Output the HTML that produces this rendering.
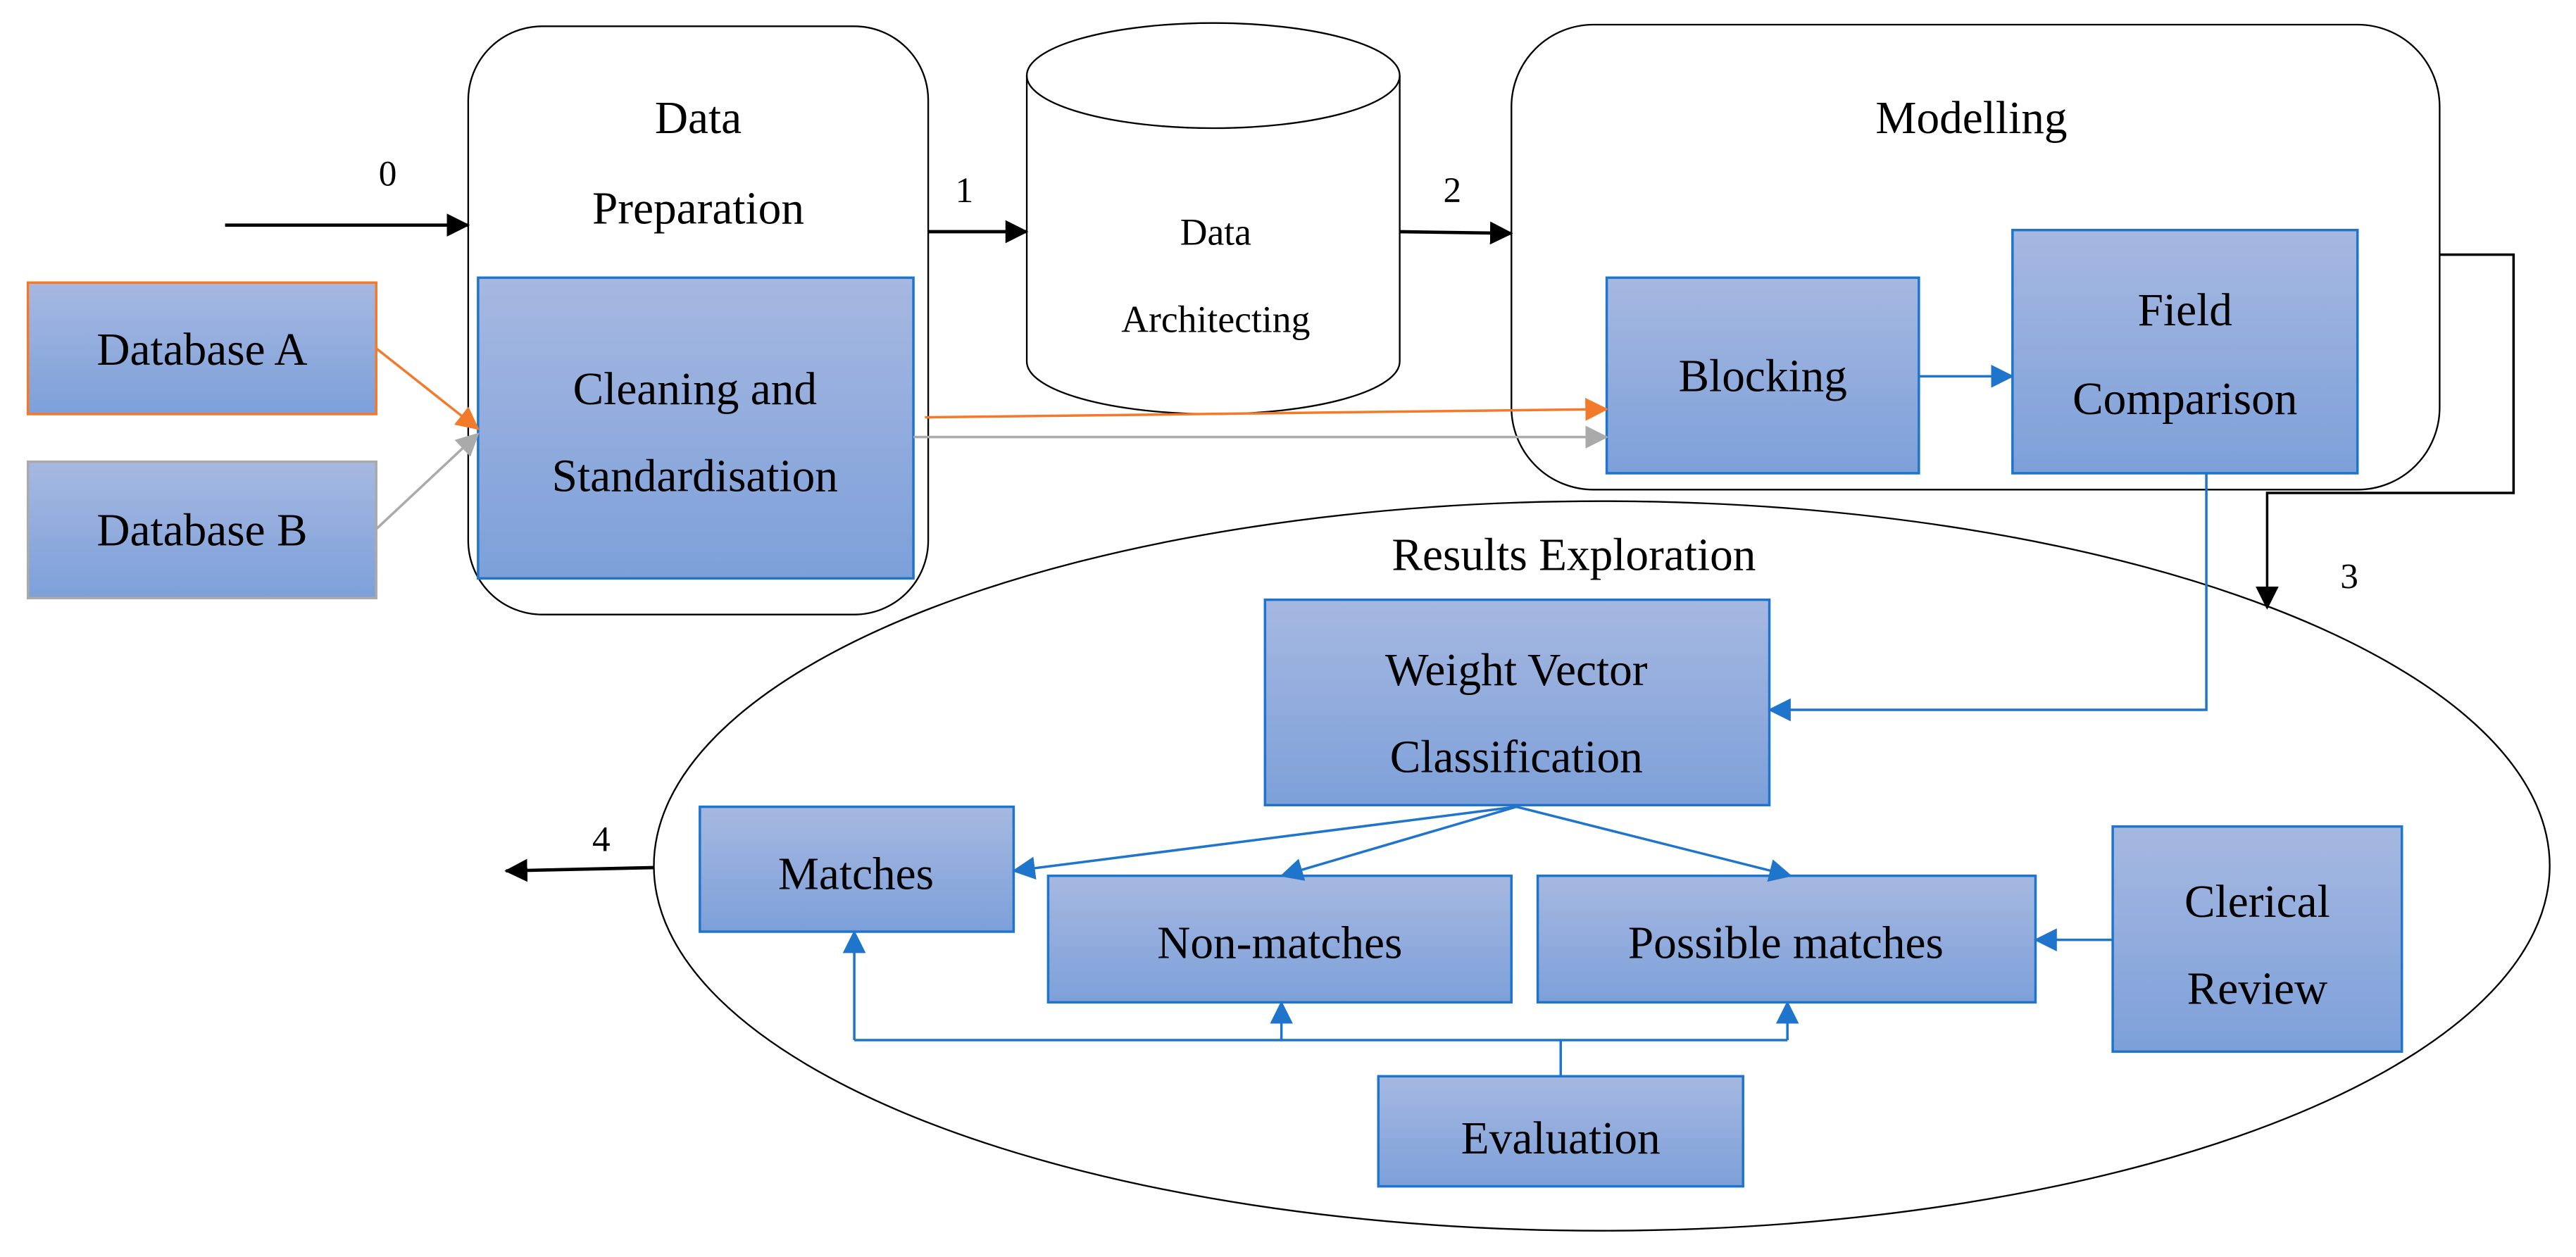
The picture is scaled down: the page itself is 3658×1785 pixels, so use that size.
<!DOCTYPE html>
<html><head><meta charset="utf-8"><style>html,body{margin:0;padding:0;background:#fff}svg{display:block}</style></head>
<body>
<svg width="3658" height="1785" viewBox="0 0 1568 765" preserveAspectRatio="none" xmlns="http://www.w3.org/2000/svg" font-family="'Liberation Serif', serif" font-size="28">
<defs>
<linearGradient id="g" x1="0" y1="0" x2="0" y2="1"><stop offset="0" stop-color="#a6b8e1"/><stop offset="1" stop-color="#7da0d9"/></linearGradient>
<marker id="ak" markerWidth="14" markerHeight="14" refX="13" refY="7" orient="auto" markerUnits="userSpaceOnUse"><path d="M0,0 L14,7 L0,14z" fill="#000"/></marker>
<marker id="ab" markerWidth="14" markerHeight="14" refX="13" refY="7" orient="auto" markerUnits="userSpaceOnUse"><path d="M0,0 L14,7 L0,14z" fill="#1f74cc"/></marker>
<marker id="ao" markerWidth="14" markerHeight="14" refX="13" refY="7" orient="auto" markerUnits="userSpaceOnUse"><path d="M0,0 L14,7 L0,14z" fill="#f47a2b"/></marker>
<marker id="ag" markerWidth="14" markerHeight="14" refX="13" refY="7" orient="auto" markerUnits="userSpaceOnUse"><path d="M0,0 L14,7 L0,14z" fill="#aaa"/></marker>
</defs>
<g fill="none" stroke="#000" stroke-width="1">
<rect x="285" y="16" width="280" height="358" rx="45" ry="45"/>
<rect x="920" y="15" width="565" height="283" rx="50" ry="50"/>
<path d="M625,46 L625,220 A113.5,32 0 0 0 852,220 L852,46"/>
<ellipse cx="738.5" cy="46" rx="113.5" ry="32"/>
<ellipse cx="975" cy="527" rx="577" ry="222"/>
</g>
<g fill="#000" text-anchor="middle">
<text x="425" y="81">Data</text>
<text x="425" y="136">Preparation</text>
<text x="1200" y="81">Modelling</text>
<text x="740" y="149" font-size="23">Data</text>
<text x="740" y="202" font-size="23">Architecting</text>
<text x="958" y="347">Results Exploration</text>
<text x="236" y="113" font-size="22">0</text>
<text x="587" y="123" font-size="22">1</text>
<text x="884" y="123" font-size="22">2</text>
<text x="1430" y="358" font-size="22">3</text>
<text x="366" y="518" font-size="22">4</text>
</g>
<g fill="url(#g)" stroke="#1f74cc" stroke-width="1.5">
<rect x="17" y="172" width="212" height="80" stroke="#f47a2b"/>
<rect x="17" y="281" width="212" height="83" stroke="#aaa"/>
<rect x="291" y="169" width="265" height="183"/>
<rect x="978" y="169" width="190" height="119"/>
<rect x="1225" y="140" width="210" height="148"/>
<rect x="770" y="365" width="307" height="125"/>
<rect x="426" y="491" width="191" height="76"/>
<rect x="638" y="533" width="282" height="77"/>
<rect x="936" y="533" width="303" height="77"/>
<rect x="1286" y="503" width="176" height="137"/>
<rect x="839" y="655" width="222" height="67"/>
</g>
<g fill="#000" text-anchor="middle">
<text x="123" y="222">Database A</text>
<text x="123" y="332">Database B</text>
<text x="423" y="246">Cleaning and</text>
<text x="423" y="299">Standardisation</text>
<text x="1073" y="238">Blocking</text>
<text x="1330" y="198">Field</text>
<text x="1330" y="252">Comparison</text>
<text x="923" y="417">Weight Vector</text>
<text x="923" y="470">Classification</text>
<text x="521" y="541">Matches</text>
<text x="779" y="583">Non-matches</text>
<text x="1087" y="583">Possible matches</text>
<text x="1374" y="558">Clerical</text>
<text x="1374" y="611">Review</text>
<text x="950" y="702">Evaluation</text>
</g>
<g fill="none" stroke-width="2">
<line x1="137" y1="137" x2="285" y2="137" stroke="#000" marker-end="url(#ak)"/>
<line x1="565" y1="141" x2="625" y2="141" stroke="#000" marker-end="url(#ak)"/>
<line x1="852" y1="141" x2="920" y2="142" stroke="#000" marker-end="url(#ak)"/>
<line x1="398" y1="528" x2="308" y2="530" stroke="#000" marker-end="url(#ak)"/>
<path d="M1485,155 L1530,155 L1530,300 L1380,300 L1380,370" stroke="#000" stroke-width="1.5" marker-end="url(#ak)"/>
<line x1="229" y1="212" x2="291" y2="261" stroke="#f47a2b" stroke-width="1.5" marker-end="url(#ao)"/>
<line x1="229" y1="322" x2="291" y2="264" stroke="#aaa" stroke-width="1.5" marker-end="url(#ag)"/>
<line x1="563" y1="254" x2="978" y2="249" stroke="#f47a2b" stroke-width="1.5" marker-end="url(#ao)"/>
<line x1="556" y1="266" x2="978" y2="266" stroke="#aaa" stroke-width="1.5" marker-end="url(#ag)"/>
<g stroke="#1f74cc" stroke-width="1.5">
<line x1="1168" y1="229" x2="1225" y2="229" marker-end="url(#ab)"/>
<path d="M1343,288 L1343,432 L1077,432" marker-end="url(#ab)"/>
<line x1="923" y1="491" x2="617" y2="530" marker-end="url(#ab)"/>
<line x1="923" y1="491" x2="780" y2="533" marker-end="url(#ab)"/>
<line x1="923" y1="491" x2="1090" y2="533" marker-end="url(#ab)"/>
<line x1="1286" y1="572" x2="1239" y2="572" marker-end="url(#ab)"/>
<line x1="950" y1="655" x2="950" y2="633"/>
<path d="M520,633 L1088,633"/>
<line x1="520" y1="633" x2="520" y2="567" marker-end="url(#ab)"/>
<line x1="780" y1="633" x2="780" y2="610" marker-end="url(#ab)"/>
<line x1="1088" y1="633" x2="1088" y2="610" marker-end="url(#ab)"/>
</g>
</g>
</svg>
</body></html>
